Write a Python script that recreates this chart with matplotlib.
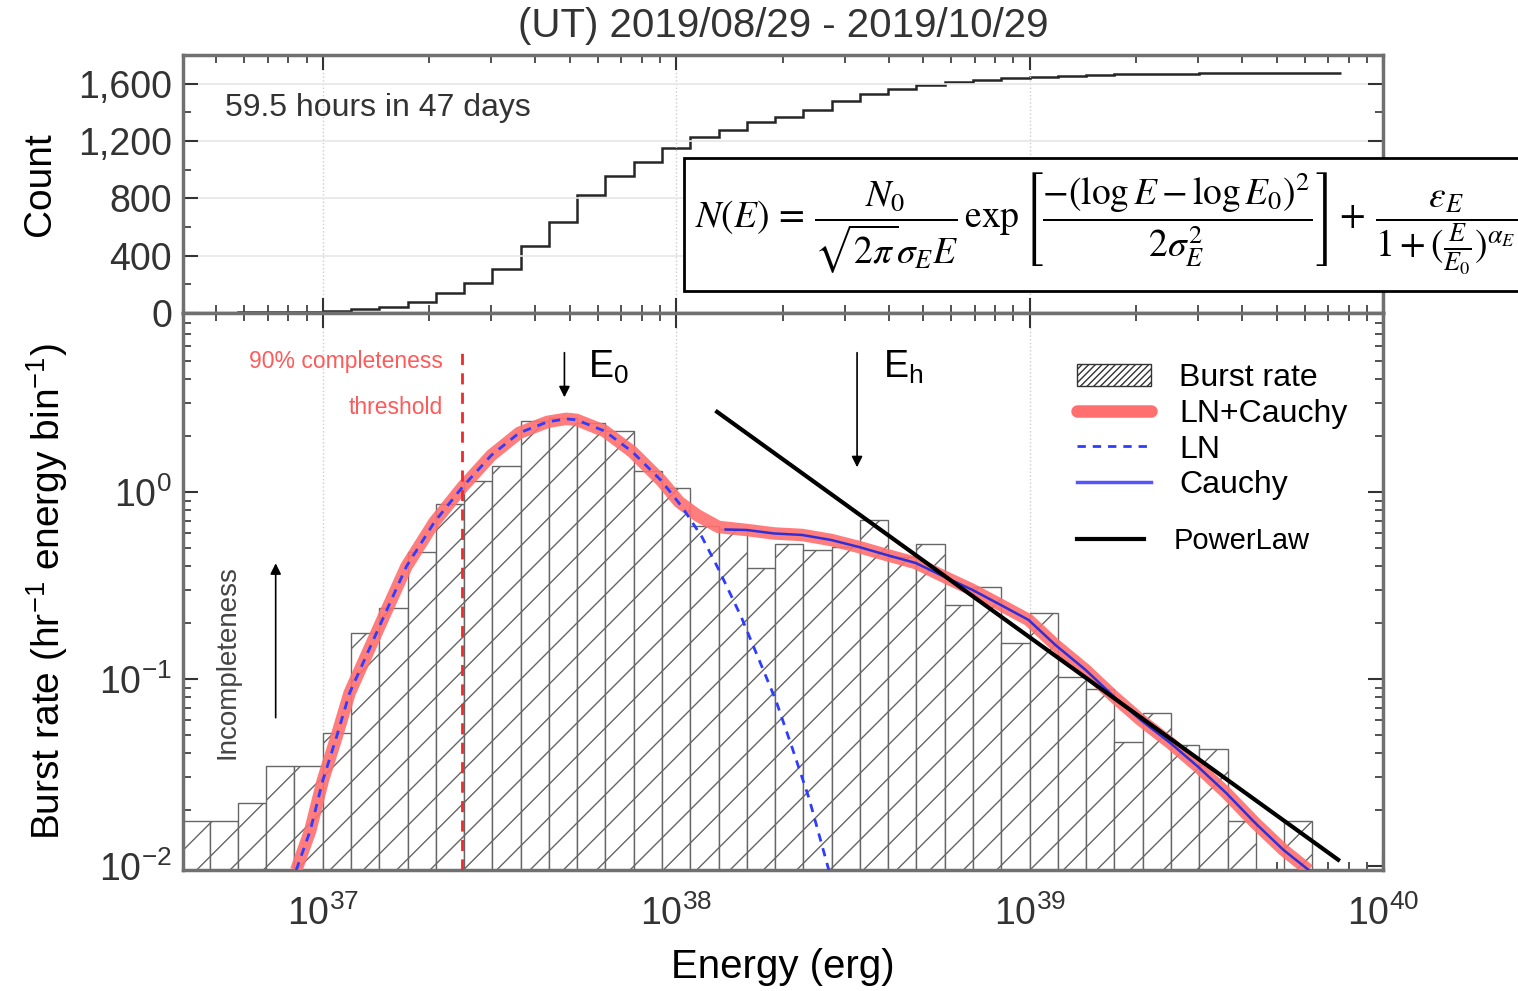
import numpy as np
import matplotlib.pyplot as plt
from matplotlib.patches import Patch, Rectangle
from matplotlib.lines import Line2D
from matplotlib.ticker import MultipleLocator, FuncFormatter, NullFormatter, LogLocator

plt.rcParams['font.family'] = ['Liberation Sans', 'DejaVu Sans']
plt.rcParams['mathtext.fontset'] = 'custom'
plt.rcParams['mathtext.rm'] = 'Liberation Sans'
plt.rcParams['mathtext.it'] = 'Liberation Sans:italic'
plt.rcParams['hatch.linewidth'] = 1.0

# ---- data ----
# energy bins: log10(E) from 36.6 in steps of 0.08 dex (41 bins)
bin_lo = 36.6
bin_step = 0.08
n_bins = 41

# burst rate per bin (hr^-1 energy bin^-1), 0 = no bar
rate = [0.0173, 0.0173, 0.0215, 0.0343, 0.0343, 0.0513, 0.175, 0.241, 0.478, 0.866,
        1.15, 1.37, 2.41, 2.50, 2.35, 2.13, 1.30, 1.05, 0.66, 0.63,
        0.39, 0.53, 0.49, 0.51, 0.71, 0.45, 0.53, 0.25, 0.31, 0.155,
        0.226, 0.103, 0.088, 0.046, 0.066, 0.044, 0.042, 0.0172, 0.0, 0.0172,
        0.0]

# cumulative burst count (top panel)
cum_count = [1, 2, 4, 6, 9, 14, 28, 44, 79, 137,
             212, 305, 470, 638, 822, 959, 1053, 1151, 1228, 1279,
             1330, 1367, 1418, 1477, 1528, 1565, 1593, 1612, 1627, 1637,
             1648, 1655, 1660, 1664, 1667, 1670, 1672, 1674, 1674, 1675,
             1675]

# log-normal component
ln_logE = [36.925, 36.965, 37.0, 37.039, 37.076, 37.161, 37.237, 37.316, 37.395, 37.477,
           37.556, 37.636, 37.689, 37.718, 37.797, 37.876, 37.958, 38.017, 38.073, 38.121,
           38.184, 38.235, 38.282, 38.328, 38.376, 38.432]
ln_rate = [0.0095, 0.0155, 0.0285, 0.0489, 0.084, 0.192, 0.40, 0.69, 1.06, 1.57,
           2.07, 2.37, 2.46, 2.43, 2.12, 1.64, 1.15, 0.83, 0.575, 0.383,
           0.215, 0.126, 0.077, 0.043, 0.023, 0.0095]

# LN+Cauchy fit
fit_logE = [36.925, 36.965, 37.0, 37.039, 37.076, 37.161, 37.237, 37.316, 37.395, 37.477,
            37.556, 37.636, 37.689, 37.718, 37.797, 37.876, 37.958, 38.008, 38.06, 38.12,
            38.2, 38.277, 38.356, 38.438, 38.517, 38.596, 38.678, 38.76, 38.839, 38.918,
            38.997, 39.073, 39.158, 39.24, 39.316, 39.398, 39.477, 39.556, 39.638, 39.718,
            39.79]
fit_rate = [0.0095, 0.0155, 0.0285, 0.0489, 0.084, 0.192, 0.40, 0.69, 1.06, 1.57,
            2.07, 2.37, 2.46, 2.43, 2.12, 1.64, 1.15, 0.885, 0.75, 0.65,
            0.626, 0.60, 0.589, 0.554, 0.508, 0.46, 0.417, 0.351, 0.299, 0.249,
            0.207, 0.152, 0.112, 0.080, 0.060, 0.0455, 0.0339, 0.0246, 0.017, 0.0122,
            0.0095]

# Cauchy component
cau_logE = [38.14, 38.2, 38.277, 38.356, 38.438, 38.517, 38.596, 38.678, 38.76, 38.839,
            38.918, 38.997, 39.073, 39.158, 39.24, 39.316, 39.398, 39.477, 39.556, 39.638,
            39.718, 39.79]
cau_rate = [0.63, 0.626, 0.60, 0.589, 0.554, 0.508, 0.46, 0.417, 0.351, 0.299,
            0.249, 0.207, 0.152, 0.112, 0.080, 0.060, 0.0455, 0.0339, 0.0246, 0.017,
            0.0122, 0.0095]

# power law
pl_logE = [38.116, 39.873]
pl_rate = [2.68, 0.0108]

E_thresh = 2.48e37
E_0 = 4.83e37
E_h = 3.25e38

edges = 10 ** (bin_lo + bin_step * np.arange(n_bins + 1))
rate = np.array(rate)
has_bar = rate > 0

fig = plt.figure(figsize=(15.18, 9.91), dpi=100)
ax_top = fig.add_axes([0.1206, 0.6842, 0.7905, 0.2603])
ax = fig.add_axes([0.1206, 0.1221, 0.7905, 0.5621], sharex=ax_top)

# ---- top panel: cumulative count ----
ax_top.stairs(cum_count, edges, baseline=None, color='#262626', lw=1.8)
ax_top.set_xscale('log')
ax_top.set_xlim(10 ** 36.605, 1e40)
ax_top.set_ylim(0, 1800)
ax_top.yaxis.set_major_locator(MultipleLocator(400))
ax_top.yaxis.set_minor_locator(MultipleLocator(200))
ax_top.yaxis.set_major_formatter(FuncFormatter(lambda v, p: f'{v:,.0f}'))
ax_top.grid(axis='y', which='major', color='#e6e6e6', lw=1.2)
ax_top.grid(axis='x', which='major', color='#cccccc', ls=':', lw=1)
ax_top.set_ylabel('Count', fontsize=28)
ax_top.yaxis.set_label_coords(-0.104, 0.5)
ax_top.tick_params(labelbottom=False)
ax_top.text(0.035, 0.795, '59.5 hours in 47 days', transform=ax_top.transAxes,
            fontsize=23, color='#333333', ha='left', va='center')

# ---- bottom panel: burst rate histogram ----
ax.bar(edges[:-1][has_bar], rate[has_bar], width=np.diff(edges)[has_bar], align='edge',
       bottom=1e-4, facecolor='white', edgecolor='#666666', hatch='/', lw=1, zorder=1)
ax.plot(10 ** np.array(fit_logE), fit_rate, color='#ff6f6f', lw=9, alpha=0.9,
        solid_capstyle='butt', zorder=3)
ax.plot(10 ** np.array(ln_logE), ln_rate, color='#2f3cff', lw=2, ls=(0, (3, 2.5)), zorder=4)
ax.plot(10 ** np.array(cau_logE), cau_rate, color='#2f2fd8', lw=1.8, zorder=4)
ax.plot(10 ** np.array(pl_logE), pl_rate, color='black', lw=3, zorder=5)

ax.axvline(E_thresh, ymax=0.93, color='#ee2a2a', lw=2, ls=(0, (4, 3)), zorder=4)

ax.set_yscale('log')
ax.set_ylim(0.00952, 9.06)
ax.grid(axis='x', which='major', color='#cccccc', ls=':', lw=1)
ax.set_axisbelow(True)
pow_fmt = FuncFormatter(lambda v, p: r'$\mathregular{10^{%d}}$' % round(np.log10(v)))
ax.xaxis.set_major_formatter(pow_fmt)
ax.yaxis.set_major_formatter(pow_fmt)
ax.xaxis.set_minor_locator(LogLocator(subs=np.arange(2, 10)))
ax.xaxis.set_minor_formatter(NullFormatter())
ax.yaxis.set_minor_formatter(NullFormatter())
ax.set_xlabel('Energy (erg)', fontsize=29)
ax.xaxis.set_label_coords(0.5, -0.14)
ax.set_ylabel(r'Burst rate (hr$\mathregular{^{-1}}$ energy bin$\mathregular{^{-1}}$)', fontsize=28)
ax.yaxis.set_label_coords(-0.094, 0.5)

# annotations
ax.text(0.2167, 0.912, '90% completeness', transform=ax.transAxes, fontsize=16.5,
        color='#ff5a5a', ha='right', va='center')
ax.text(0.2167, 0.831, 'threshold', transform=ax.transAxes, fontsize=16.5,
        color='#ff5a5a', ha='right', va='center')
ax.annotate('', xy=(E_0, 3.1), xytext=(E_0, 5.75),
            arrowprops=dict(arrowstyle='-|>', color='black', lw=1.2, mutation_scale=16))
ax.text(0.3375, 0.903, r'E$\mathregular{_0}$', transform=ax.transAxes, fontsize=27,
        ha='left', va='center')
ax.annotate('', xy=(E_h, 1.31), xytext=(E_h, 5.75),
            arrowprops=dict(arrowstyle='-|>', color='black', lw=1.2, mutation_scale=16))
ax.text(0.5833, 0.903, r'E$\mathregular{_h}$', transform=ax.transAxes, fontsize=27,
        ha='left', va='center')
ax.annotate('', xy=(10 ** 36.867, 0.43), xytext=(10 ** 36.867, 0.060),
            arrowprops=dict(arrowstyle='-|>', color='black', lw=1.2, mutation_scale=16))
ax.text(0.0367, 0.373, 'Incompleteness', transform=ax.transAxes, fontsize=20,
        color='#444444', rotation=90, ha='center', va='center')

# legends
h1 = [Patch(facecolor='white', edgecolor='#333333', hatch='/////'),
      Line2D([], [], color='#ff6f6f', lw=9, solid_capstyle='round'),
      Line2D([], [], color='#2f3cff', lw=2, ls=(0, (3, 2.5))),
      Line2D([], [], color='#5555ff', lw=2.5)]
leg1 = ax.legend(h1, ['Burst rate', 'LN+Cauchy', 'LN', 'Cauchy'], loc='upper left',
                 bbox_to_anchor=(0.745, 0.91), frameon=False, fontsize=23,
                 borderaxespad=0, borderpad=0, labelspacing=0.18,
                 handlelength=2.3, handletextpad=0.9)
ax.add_artist(leg1)
ax.legend([Line2D([], [], color='black', lw=3)], ['PowerLaw'], loc='upper left',
          bbox_to_anchor=(0.745, 0.615), frameon=False, fontsize=21,
          borderaxespad=0, borderpad=0, handlelength=2.3, handletextpad=1.0)

# frames and ticks
for a in (ax_top, ax):
    for s in a.spines.values():
        s.set_color('#707070')
        s.set_linewidth(2.5)
    a.tick_params(which='both', direction='in', top=True, right=True, colors='#333333',
                  labelsize=27)
    a.tick_params(which='major', length=11, width=1.5, pad=8)
    a.tick_params(which='minor', length=6, width=1.2)
ax.tick_params(axis='x', which='major', pad=18)

# title
fig.text(783 / 1518, 1 - 26 / 991, '(UT) 2019/08/29 - 2019/10/29', fontsize=29,
         ha='center', va='center', color='#333333')

# formula box
fig.patches.append(Rectangle((684 / 1518, 1 - 291 / 991), (1540 - 684) / 1518, (291 - 158) / 991,
                             transform=fig.transFigure, facecolor='white', edgecolor='black',
                             lw=2, zorder=5))
formula = (r'$N(E)\,=\,\dfrac{N_0}{\sqrt{2\pi}\sigma_E E}\,\exp\left[\dfrac{-(\log E-\log E_0)^2}'
           r'{2\sigma_E^2}\right]+\,\dfrac{\varepsilon_E}{1+(\frac{E}{E_0})^{\alpha_E}}$')
fig.text(695 / 1518, 1 - 224 / 991, formula, fontsize=27, math_fontfamily='stix',
         ha='left', va='center', zorder=6)

fig.savefig('out.png', dpi=100)
